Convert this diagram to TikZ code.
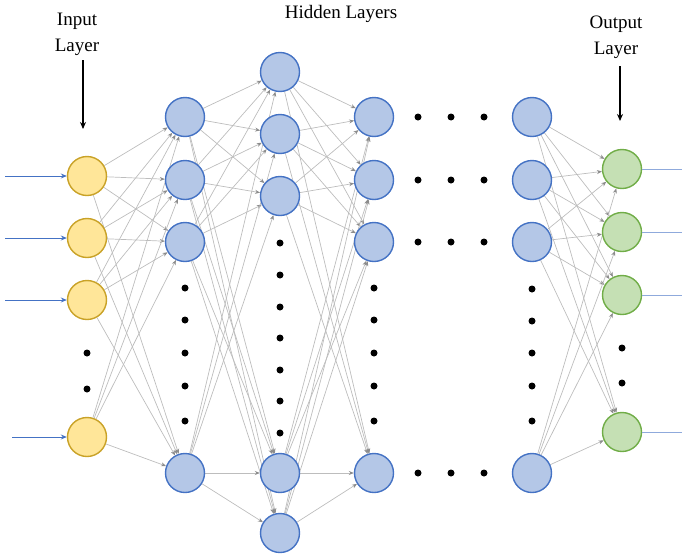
\documentclass[tikz,border=0pt]{standalone}
\usepackage{fontspec}
\setmainfont{Liberation Serif}
\usetikzlibrary{arrows.meta,backgrounds}
\definecolor{yfill}{HTML}{FFE699}
\definecolor{ydraw}{HTML}{C9A227}
\definecolor{bfill}{HTML}{B4C7E7}
\definecolor{bdraw}{HTML}{4472C4}
\definecolor{gfill}{HTML}{C5E0B4}
\definecolor{gdraw}{HTML}{70AD47}
\definecolor{edgecol}{HTML}{BDBDBD}
\definecolor{tipcol}{HTML}{8C8C8C}
\definecolor{inarrow}{HTML}{4472C4}
\definecolor{outline}{HTML}{8FAADC}
\begin{document}
\begin{tikzpicture}[x=1pt,y=-1pt,
  neuron/.style={circle,minimum size=39pt,inner sep=0pt,line width=1.4pt},
  inneuron/.style={neuron,draw=ydraw,fill=yfill},
  hidneuron/.style={neuron,draw=bdraw,fill=bfill},
  outneuron/.style={neuron,draw=gdraw,fill=gfill},
  edge/.style={draw=edgecol,line width=0.7pt,-{Stealth[length=5pt,width=4pt,color=tipcol,fill=tipcol]}},
  inedge/.style={draw=inarrow,line width=0.9pt,-{Stealth[length=6pt,width=5pt]}},
  outedge/.style={draw=outline,line width=1pt},
  lblarrow/.style={draw=black,line width=1.3pt,-{Stealth[length=7pt,width=6pt]}},
  dotnode/.style={circle,fill=black,minimum size=7pt,inner sep=0pt},
  lbl/.style={font=\fontsize{19}{26}\selectfont,align=center,inner sep=0pt}
]
\useasboundingbox (0,0) rectangle (682,557);
% input layer
\node[inneuron] (i1) at (87,176) {};
\node[inneuron] (i2) at (87,238) {};
\node[inneuron] (i3) at (87,300) {};
\node[inneuron] (i4) at (87,437) {};
\foreach \y [count=\k] in {353,389} \node[dotnode] (id\k) at (87,\y) {};
% hidden column 1
\node[hidneuron] (a1) at (185,117) {};
\node[hidneuron] (a2) at (185,180) {};
\node[hidneuron] (a3) at (185,242) {};
\node[hidneuron] (a4) at (185,473) {};
\foreach \y [count=\k] in {288,320,353,386,421} \node[dotnode] (ad\k) at (185,\y) {};
% hidden column 2
\node[hidneuron] (b1) at (280,72) {};
\node[hidneuron] (b2) at (280,134) {};
\node[hidneuron] (b3) at (280,196) {};
\node[hidneuron] (b4) at (280,473) {};
\node[hidneuron] (b5) at (280,533) {};
\foreach \y [count=\k] in {243,275,307,338,370,401,433} \node[dotnode] (bd\k) at (280,\y) {};
% hidden column 3
\node[hidneuron] (c1) at (374,117) {};
\node[hidneuron] (c2) at (374,180) {};
\node[hidneuron] (c3) at (374,242) {};
\node[hidneuron] (c4) at (374,473) {};
\foreach \y [count=\k] in {288,320,353,386,421} \node[dotnode] (cd\k) at (374,\y) {};
% horizontal dots
\foreach \y [count=\r] in {117,180,242,473}
  \foreach \x [count=\k] in {418,451,484} \node[dotnode] (hd\r\k) at (\x,\y) {};
% hidden column 4
\node[hidneuron] (d1) at (532,117) {};
\node[hidneuron] (d2) at (532,180) {};
\node[hidneuron] (d3) at (532,242) {};
\node[hidneuron] (d4) at (532,473) {};
\foreach \y [count=\k] in {289,321,353,386,421} \node[dotnode] (dd\k) at (532,\y) {};
% output layer
\node[outneuron] (o1) at (622,169) {};
\node[outneuron] (o2) at (622,232) {};
\node[outneuron] (o3) at (622,295) {};
\node[outneuron] (o4) at (622,432) {};
\foreach \y [count=\k] in {348,383} \node[dotnode] (od\k) at (622,\y) {};
% labels
\node[lbl] (tin) at (77,34) {Input\\Layer};
\node[lbl] (thid) at (341,14) {Hidden Layers};
\node[lbl] (tout) at (616,37) {Output\\Layer};
\coordinate (ain1) at (83,60);
\coordinate (ain2) at (83,129);
\coordinate (aout1) at (620,66);
\coordinate (aout2) at (620,121);
\draw[lblarrow] (ain1) -- (ain2);
\draw[lblarrow] (aout1) -- (aout2);
% input arrows and output lines
\coordinate (s1) at (5,176);
\coordinate (s2) at (5,238);
\coordinate (s3) at (5,300);
\coordinate (s4) at (12,437);
\foreach \k in {1,2,3,4} \draw[inedge] (s\k) -- (i\k);
\coordinate (e1) at (682,169);
\coordinate (e2) at (682,232);
\coordinate (e3) at (682,295);
\coordinate (e4) at (682,432);
\foreach \k in {1,2,3,4} \draw[outedge] (o\k.east) -- (e\k);
% connections
\begin{scope}[on background layer]
\foreach \s in {i1,i2,i3,i4}
  \foreach \t in {a1,a2,a3,a4} \draw[edge] (\s) -- (\t);
\foreach \s in {a1,a2,a3,a4}
  \foreach \t in {b1,b2,b3,b4,b5} \draw[edge] (\s) -- (\t);
\foreach \s in {b1,b2,b3,b4,b5}
  \foreach \t in {c1,c2,c3,c4} \draw[edge] (\s) -- (\t);
\foreach \s in {d1,d2,d3,d4}
  \foreach \t in {o1,o2,o3,o4} \draw[edge] (\s) -- (\t);
\end{scope}
\end{tikzpicture}
\end{document}
